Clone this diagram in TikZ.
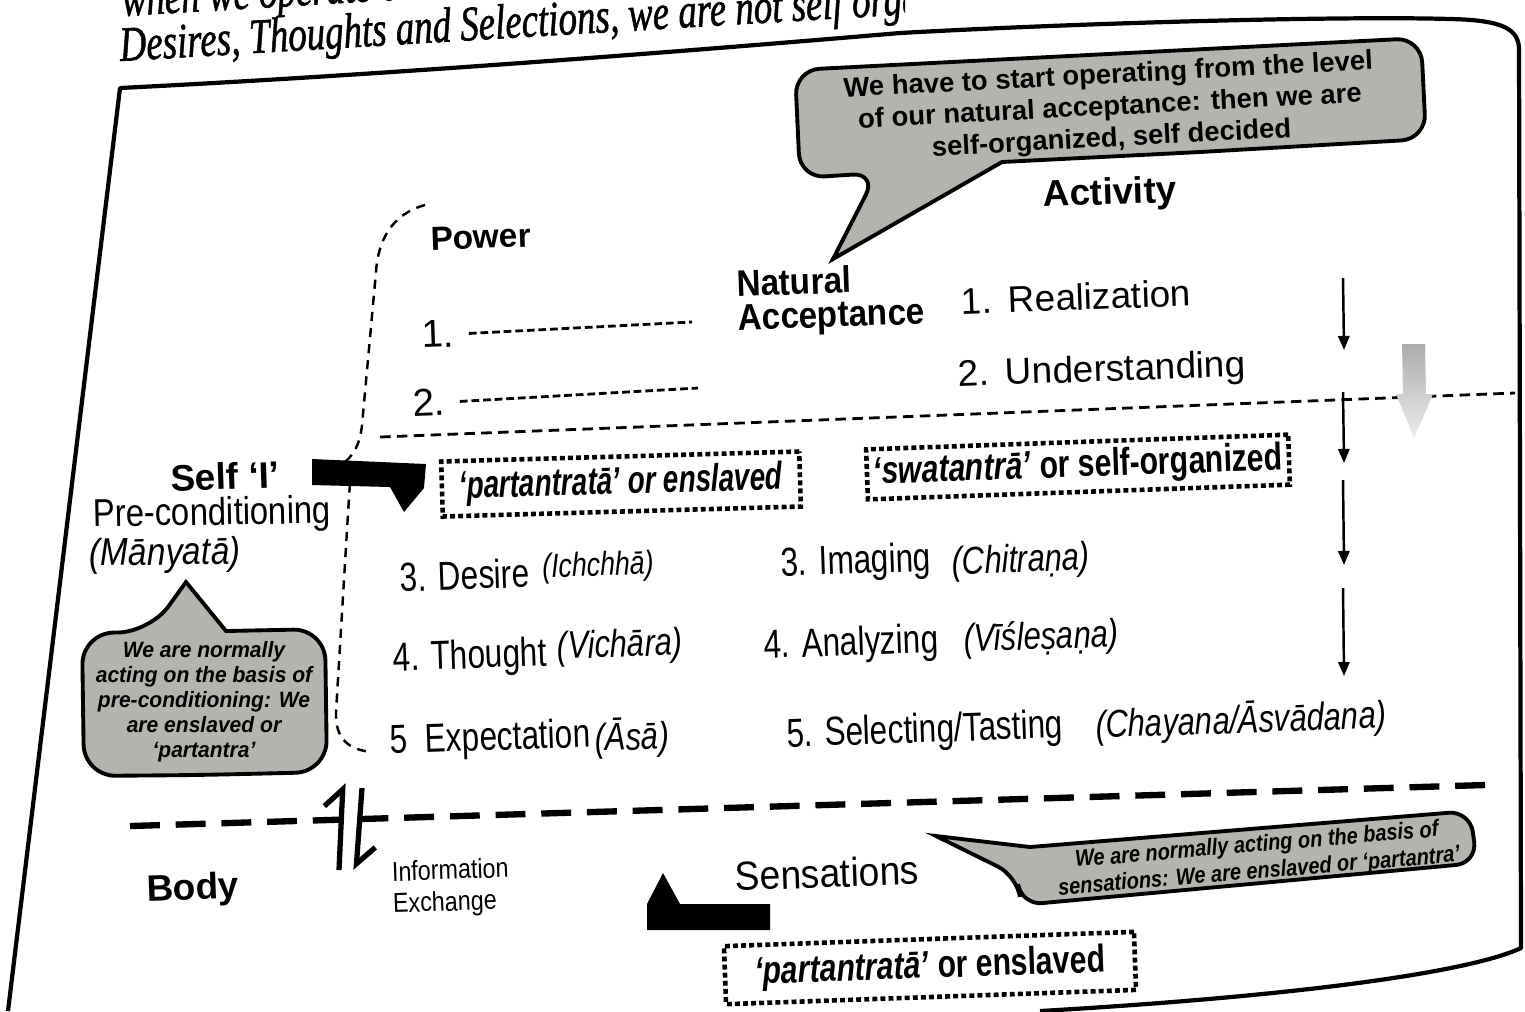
\documentclass[tikz,border=0pt]{standalone}
\usepackage{fontspec}
\usepackage{graphicx}
\setmainfont{Liberation Sans}
\newfontfamily\bookfont[FakeBold=1.3]{Liberation Serif}
\usetikzlibrary{arrows.meta,positioning}
\definecolor{bubblegray}{RGB}{180,180,174}
\newcommand{\narrow}[2][0.75]{\scalebox{#1}[1]{#2}}
\tikzset{
    txt/.style={
    inner sep=0pt,rotate=2
    },
    head/.style={
    txt,font=\bfseries\fontsize{10.5}{12.5}\selectfont
    },
    plain/.style={
    txt,font=\fontsize{10.5}{12.5}\selectfont
    },
    item/.style={
    txt,font=\fontsize{11.5}{13}\selectfont,xscale=0.78
    },
    skt/.style={
    txt,font=\itshape\fontsize{11}{13}\selectfont,xscale=0.8
    },
    book/.style={
    inner sep=0pt,rotate=3.4,xscale=0.75,font=\bookfont\itshape\fontsize{14}{16}\selectfont
    },
    bubble/.style={
    draw=black,line width=1.1pt,fill=bubblegray
    },
    note/.style={
    inner sep=0pt,align=center,font=\bfseries\fontsize{7.8}{9}\selectfont
    },
    status/.style={
    txt,draw=black,line width=1.3pt,dash pattern=on 1.4pt off 0.9pt,
    font=\bfseries\fontsize{11}{13}\selectfont
    },
    flow/.style={
    -{Triangle[length=4pt,width=3.2pt]},line width=0.7pt
    },
    blank/.style={
    line width=0.8pt,dash pattern=on 2.2pt off 1.1pt
    },
    level/.style={
    line width=0.8pt,dash pattern=on 3pt off 1.8pt
    },
    split/.style={
    line width=1.8pt,dash pattern=on 8.5pt off 4.5pt
    },
    brace/.style={
    line width=0.7pt,dash pattern=on 2.6pt off 2pt
    },
    harpoon/.style={
    -{Straight Barb[left,length=5pt]},line width=1.5pt
    },
}

\begin{document}
\begin{tikzpicture}[x=0.01cm,y=-0.01cm]
  \useasboundingbox (0,0) rectangle (1525,1011);

  % text of the page above the figure
  \begin{scope}
    \clip (0,0) rectangle (905,80);
    \node[book,anchor=base west] (line1) at (122,16) {when we operate on};
    \node[book,anchor=base west] (line2) at (120,61) {Desires, Thoughts and Selections, we are not self organized};
  \end{scope}

  % frame
  \draw[line width=1.2pt,line join=round] (8,1011) -- (120,88)
     .. controls (400,74) and (700,50) .. (900,33) .. controls (1100,22) and (1350,16) .. (1450,19)
     .. controls (1505,20) and (1519,30) .. (1519,50) -- (1521,948)
     .. controls (1470,972) and (1300,996) .. (1040,1011);

  % callouts
  \draw[bubble,rounded corners=7pt] (1200,152) -- (1426,139) -- (1421,38) -- (795,70)
     -- (800,178) -- (877,173) [sharp corners] -- (833,259) -- (1002,162) -- cycle;
  \node[note,rotate=3] (acceptnote) at (1110,108) {We have to start operating from the level\\of our natural acceptance: then we are\\self-organized, self decided};

  \draw[bubble,rounded corners=9pt] (200,775) -- (84,776) -- (82,633) -- (150,632)
     [sharp corners] -- (186,582) -- (226,631) [rounded corners=9pt] -- (325,629) -- (327,772) -- cycle;
  \node[note,font=\bfseries\itshape\fontsize{6.3}{7.1}\selectfont,xscale=0.95] (precondnote) at (204,702)
     {We are normally\\acting on the basis of\\pre-conditioning: We\\are enslaved or\\`partantra'};

  \draw[bubble,rounded corners=6pt] (1250,884) -- (1021,905) -- (1017,876) [sharp corners]
     -- (936,836) -- (1030,847) [rounded corners=6pt] -- (1470,811) -- (1477,863) -- cycle;
  \node[note,rotate=4.8,xscale=0.86,font=\bfseries\itshape\fontsize{6.6}{7.6}\selectfont] (sensenote) at (1258,859)
     {We are normally acting on the basis of\\sensations: We are enslaved or `partantra'};

  % natural acceptance side
  \node[head] (activity) at (1110,195) {Activity};
  \node[head,align=left,anchor=west,xscale=0.9,font=\bfseries\fontsize{10.5}{9.6}\selectfont] (natural) at (737,304) {Natural\\Acceptance};
  \node[plain] (realization) at (1076,297) {1.\hspace{0.45em}Realization};
  \node[plain] (understanding) at (1102,372) {2.\hspace{0.45em}Understanding};
  \node[head,font=\bfseries\fontsize{9.5}{11}\selectfont] (power) at (481,237) {Power};
  \node[plain,font=\fontsize{11}{13}\selectfont] (one) at (438,334) {1.};
  \node[plain,font=\fontsize{11}{13}\selectfont] (two) at (429,402) {2.};
  \coordinate (blankone) at (692,322);
  \coordinate (blanktwo) at (698,388);
  \draw[blank] ([xshift=4pt]one.east) -- (blankone);
  \draw[blank] ([xshift=4pt]two.east) -- (blanktwo);

  \coordinate (levelL) at (380,437);
  \coordinate (levelR) at (1515,393);
  \draw[level] (levelL) -- (levelR);

  \foreach \n/\ya/\yb in {1/278/350,2/392/463,3/480/565,4/588/676}{
    \coordinate (fs\n) at (1343,\ya);
    \coordinate (fe\n) at (1344,\yb);
    \draw[flow] (fs\n) -- (fe\n);
  }
  \path[top color=gray!65,bottom color=gray!15] (1402,344) -- (1425,344) -- (1426,394) -- (1433,394)
     -- (1414,438) -- (1396,394) -- (1403,394) -- cycle;

  % self
  \node[head] (self) at (225,476) {Self ‘I’};
  \node[plain,font=\fontsize{11}{13}\selectfont,xscale=0.85,rotate=-1] (precond) at (212,515) {Pre-conditioning};
  \node[plain,font=\itshape\fontsize{11}{13}\selectfont,xscale=0.87,rotate=-1] (manyata) at (165,555) {(Mānyatā)};

  \draw[brace] (425,205) .. controls (392,214) and (378,240) .. (376,272) -- (362,425)
     .. controls (360,445) and (353,455) .. (345,462) .. controls (352,470) and (350,482) .. (349,497)
     -- (336,712) .. controls (335,740) and (350,750) .. (372,752);

  \fill (312,459) -- (426,464) -- (424,488) -- (404,512) -- (390,487) -- (312,485) -- cycle;

  \node[status,minimum width=3.58cm,minimum height=0.55cm,rotate=-0.4] (enslaved) at (621,484)
     {\narrow[0.72]{\itshape `partantratā' or enslaved}};
  \node[status,minimum width=4.22cm,minimum height=0.5cm] (selforg) at (1078,467)
     {\narrow[0.78]{\textit{`swatantrā'} or self-organized}};

  % mind activities
  \node[item] (desire) at (465,575) {3. Desire};
  \node[skt,font=\itshape\fontsize{9.5}{11}\selectfont] (ichchha) at (598,567) {(Ichchhā)};
  \node[item] (thought) at (470,658) {4. Thought};
  \node[skt] (vichara) at (620,647) {(Vichāra)};
  \node[item] (expect) at (490,740) {5\hspace{0.3em} Expectation};
  \node[skt] (asa) at (632,738) {(Āsā)};

  \node[item] (imaging) at (856,563) {3. Imaging};
  \node[skt] (chitrana) at (1021,562) {(Chitraṇa)};
  \node[item] (analyzing) at (851,645) {4. Analyzing};
  \node[skt] (vislesana) at (1041,639) {(Vīśleṣaṇa)};
  \node[item] (selecting) at (925,732) {5. Selecting/Tasting};
  \node[skt] (chayana) at (1241,721) {(Chayana/Āsvādana)};

  % body
  \coordinate (splitL) at (130,826);
  \coordinate (splitR) at (1485,785);
  \draw[split] (splitL) -- (splitR);
  \coordinate (upS) at (339,870);
  \coordinate (upE) at (343,783);
  \coordinate (downS) at (362,788);
  \coordinate (downE) at (356,870);
  \draw[harpoon] (upS) -- (upE);
  \draw[harpoon] (downS) -- (downE);

  \node[head] (body) at (193,890) {Body};
  \node[txt,align=left,anchor=west,font=\fontsize{7.8}{9}\selectfont,xscale=0.85] (info) at (392,890) {Information\\Exchange};
  \node[plain,font=\fontsize{11.5}{13}\selectfont,xscale=0.92] (sensations) at (827,873) {Sensations};
  \fill (647,930) -- (647,904) -- (663,873) -- (680,904) -- (770,904) -- (770,930) -- cycle;
  \node[status,minimum width=4.1cm,minimum height=0.58cm] (enslavedB) at (930,968)
     {\narrow[0.78]{\textit{`partantratā'} or enslaved}};
\end{tikzpicture}
\end{document}
